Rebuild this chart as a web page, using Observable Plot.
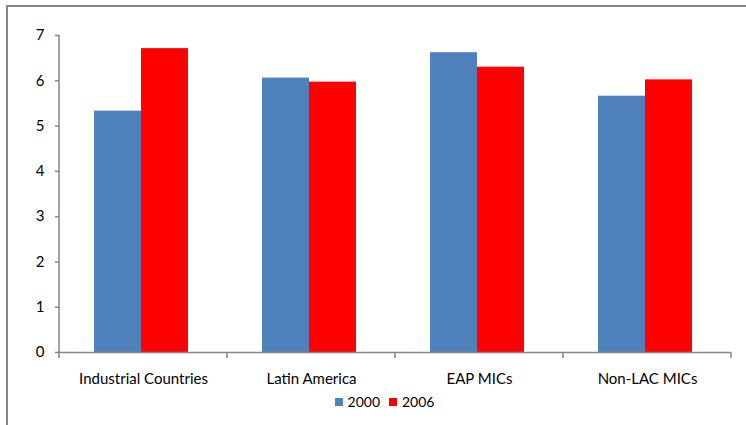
<!DOCTYPE html>
<html>
<head>
<meta charset="utf-8">
<script src="https://cdn.jsdelivr.net/npm/d3@7"></script>
<script src="https://cdn.jsdelivr.net/npm/@observablehq/plot@0.6"></script>
<style>
  html, body { margin: 0; padding: 0; background: #fff; }
  body { width: 746px; height: 425px; overflow: hidden; position: relative; font-family: Lato, "Open Sans", sans-serif; }
  #border { position: absolute; left: 6px; top: 5px; width: 800px; height: 500px; border-left: 2.5px solid #868686; border-top: 2.5px solid #868686; }
  #chart { position: absolute; left: 0; top: 0; }
  #legend { position: absolute; left: 0; top: 393px; width: 769px; display: flex; justify-content: center; gap: 9px; font-size: 14px; color: #000; }
  #legend .item { display: flex; align-items: center; gap: 5px; }
  #legend .sw { width: 8px; height: 8px; display: inline-block; }
</style>
</head>
<body>
<div id="border"></div>
<div id="chart"></div>
<div id="legend"></div>
<script>
// Categories, series and tick values
const categories = ["Industrial Countries", "Latin America", "EAP MICs", "Non-LAC MICs"];
const years = ["2000", "2006"];
const values2000 = [5.33, 6.06, 6.62, 5.66];
const values2006 = [6.71, 5.97, 6.30, 6.02];
const yTicks = [0, 1, 2, 3, 4, 5, 6, 7];
const colors = ["#4F81BD", "#FF0000"];
const axisColor = "#868686";

const rows = categories.flatMap((c, i) => [
  {category: c, year: years[0], value: values2000[i]},
  {category: c, year: years[1], value: values2006[i]}
]);

const chart = Plot.plot({
  width: 746,
  height: 392,
  marginLeft: 57,
  marginRight: 14,
  marginTop: 35,
  marginBottom: 40,
  style: {fontFamily: "Lato, 'Open Sans', sans-serif", fontSize: "15px", color: "#000", background: "transparent"},
  fx: {domain: categories, padding: 0, label: null},
  x: {domain: years, paddingInner: 0, paddingOuter: 0.76, align: 0.47, axis: null},
  y: {domain: [0, 7], label: null},
  color: {domain: years, range: colors},
  marks: [
    Plot.barY(rows, {fx: "category", x: "year", y: "value", fill: "year"}),
    Plot.ruleY([0], {stroke: axisColor, strokeWidth: 1.5}),
    Plot.axisY(yTicks, {tickSize: 4, tickPadding: 11, stroke: axisColor, strokeWidth: 1.5, fill: "#000", fontSize: 15, label: null}),
    Plot.axisFx({anchor: "bottom", tickSize: 0, tickPadding: 21, fontSize: 15, fill: "#000", label: null})
  ]
});
document.getElementById("chart").appendChild(chart);

// Axis lines and category boundary ticks, placed with the plot's own scales
const fx = chart.scale("fx");
const y = chart.scale("y");
const svg = d3.select(chart);
const y0 = y.apply(0);
const yTop = y.apply(7);
const bounds = categories.map(c => fx.apply(c)).concat([fx.apply(categories[categories.length - 1]) + fx.bandwidth]);
const g = svg.append("g").attr("stroke", axisColor).attr("stroke-width", 1.5);
g.append("line").attr("x1", bounds[0]).attr("x2", bounds[0]).attr("y1", yTop).attr("y2", y0);
g.selectAll("line.b").data(bounds).join("line").attr("class", "b")
  .attr("x1", d => d).attr("x2", d => d).attr("y1", y0).attr("y2", y0 + 6);

// Legend
const legend = d3.select("#legend");
years.forEach((yr, i) => {
  const it = legend.append("div").attr("class", "item");
  it.append("span").attr("class", "sw").style("background", colors[i]);
  it.append("span").text(yr);
});
</script>
</body>
</html>
